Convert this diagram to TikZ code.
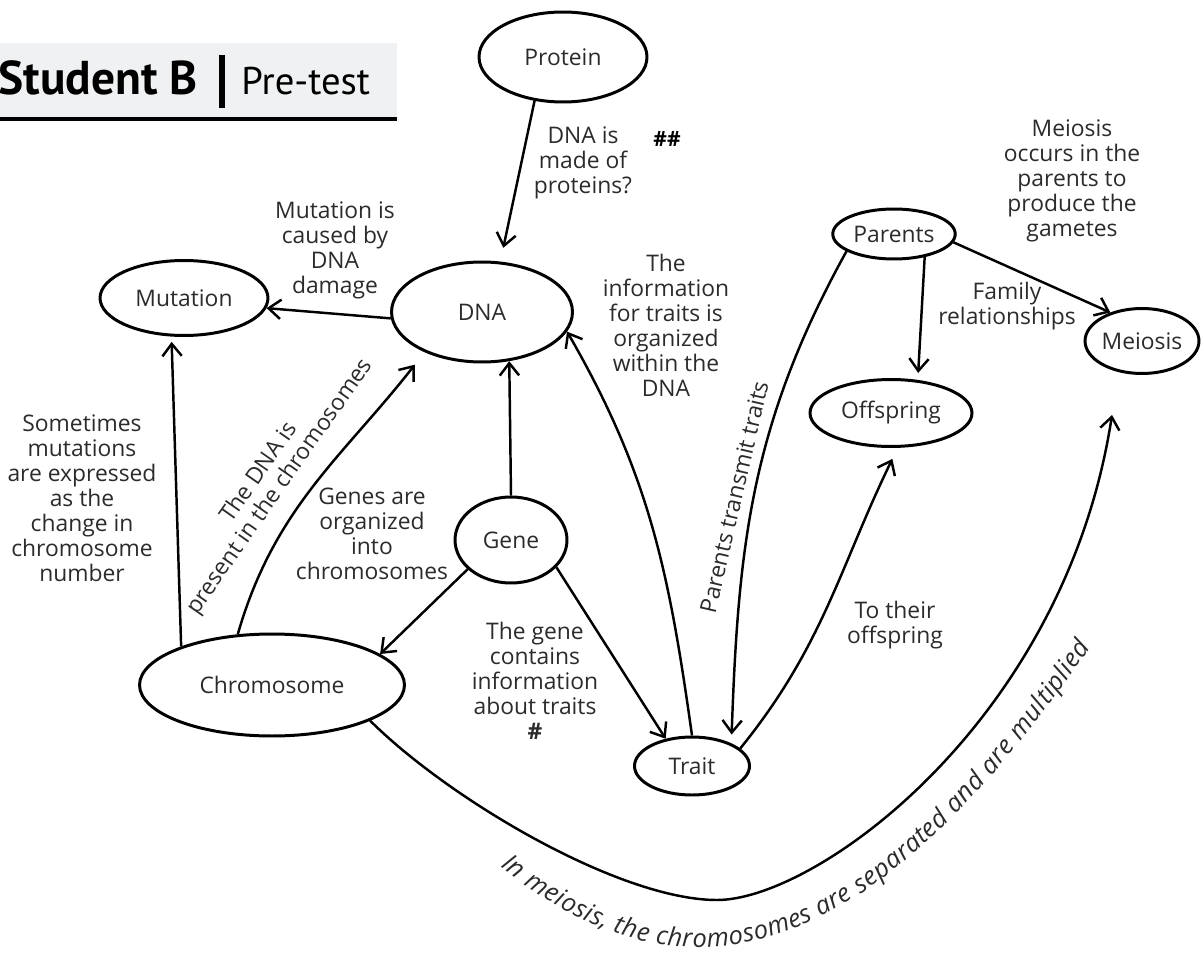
\documentclass[tikz,border=0pt]{standalone}
\usepackage{fontspec}
\setmainfont{Open Sans}
\newfontfamily\titlefont{PT Sans}
\usepackage{xcolor}
\definecolor{TitleGray}{HTML}{F0F1F2}
\definecolor{HandInk}{HTML}{2B2B2B}
\usetikzlibrary{shapes.geometric}
\usetikzlibrary{arrows.meta}
\usetikzlibrary{decorations.text}
\newcommand{\handsize}{\fontsize{13}{14.2}\selectfont}
\newcommand{\curvesize}{\fontsize{14.5}{15}\selectfont}
\newcommand{\titlebig}{\titlefont\fontsize{27}{30}\selectfont\bfseries}
\newcommand{\titlesmall}{\titlefont\fontsize{22}{26}\selectfont}
\tikzset{
  concept/.style={draw, ellipse, line width=1.7pt, inner sep=0pt,
    font=\handsize, text=HandInk},
  link/.style={-{Straight Barb[length=7pt,width=11pt]}, line width=1.4pt},
  linklabel/.style={align=center, inner sep=0pt, font=\handsize, text=HandInk},
}

\begin{document}
\begin{tikzpicture}[x=0.02cm, y=-0.02cm]
    \useasboundingbox (0,0) rectangle (1203,956);
    % title part
    \fill[TitleGray] (0,43) rectangle (397,118);
    \draw[line width=1.8pt] (0,119) -- (397,119);
    \node[anchor=base west, inner sep=0pt, font=\titlebig] (student) at (-2,95) {Student B};
    \fill (219,55) rectangle (225,108);
    \node[anchor=base west, inner sep=0pt, font=\titlesmall] (pretest) at (241,95) {Pre-test};

    % concept part
    \node[concept, minimum width=3.36cm, minimum height=1.8cm] (protein) at (563,57) {Protein};
    \node[concept, minimum width=3.62cm, minimum height=2.0cm] (dna) at (482,312) {DNA};
    \node[concept, minimum width=3.36cm, minimum height=1.5cm] (mutation) at (184,298) {Mutation};
    \node[concept, minimum width=2.24cm, minimum height=1.72cm] (gene) at (511,540) {Gene};
    \node[concept, minimum width=5.3cm, minimum height=2.04cm] (chromosome) at (272,685) {Chromosome};
    \node[concept, minimum width=2.3cm, minimum height=1.16cm] (trait) at (692,766) {Trait};
    \node[concept, minimum width=2.45cm, minimum height=1.0cm] (parents) at (894,234) {Parents};
    \node[concept, minimum width=3.24cm, minimum height=1.34cm] (offspring) at (891,413) {Offspring};
    \node[concept, minimum width=2.26cm, minimum height=1.3cm] (meiosis) at (1142,341) {Meiosis};
    \coordinate (meiosisin) at (1112,415);

    % link part
    \draw[link, shorten >=8pt] (protein.237) -- (dna.70);
    \draw[link] (dna.184) -- (mutation.-7);
    \draw[link, shorten >=3pt] (chromosome.157) -- (mutation.252);
    \draw[link, shorten >=9pt] (chromosome.124) to[out=74, in=232] (dna.215);
    \draw[link] (gene.north) -- (dna.-61);
    \draw[link] (gene.214) -- (chromosome.16);
    \draw[link] (gene.-31) -- (trait.134);
    \draw[link] (trait.90) to[out=98, in=-60] (dna.-13);
    \draw[link, shorten >=5pt] (parents.200) to[out=241, in=88] (trait.30);
    \draw[link, shorten >=7pt] (trait.20) to[out=51, in=244] (offspring.-79);
    \draw[link, shorten >=4pt] (parents.-37) -- (offspring.51);
    \draw[link] (parents.-8) -- (meiosis.138);
    \draw[link] (chromosome.-20) .. controls (450,800) and (620,900) .. (717,900)
      .. controls (817,900) and (1065,720) .. (meiosisin);
    % text under the meiosis curve
    \path[decorate, decoration={text along path, text align=fit to path,
        text={|\color{HandInk}\itshape\curvesize|In meiosis, the chromosomes are separated and are multiplied}}]
      (500,866) .. controls (728,1052) and (920,893) .. (1090,648);

    % label part
    \node[linklabel] (proteinlabel) at (583,163) {DNA is\\made of\\proteins?};
    \node[inner sep=0pt, font=\large\bfseries] (proteinmark) at (667,139) {\#\#};
    \node[linklabel] (mutationlabel) at (335,250) {Mutation is\\caused by\\DNA\\damage};
    \node[linklabel] (sometimeslabel) at (82,498) {Sometimes\\mutations\\are expressed\\as the\\change in\\chromosome\\number};
    \node[linklabel, rotate=55] (presentlabel) at (270,480) {The DNA is\\present in the chromosomes};
    \node[linklabel] (organizedlabel) at (372,534) {Genes are\\organized\\into\\chromosomes};
    \node[linklabel] (containslabel) at (535,681) {The gene\\contains\\information\\about traits\\\textbf{\#}};
    \node[linklabel] (withinlabel) at (666,325) {The\\information\\for traits is\\organized\\within the\\DNA};
    \node[linklabel, rotate=77] (transmitlabel) at (734,497) {Parents transmit traits};
    \node[linklabel] (theirlabel) at (895,625) {To their\\offspring};
    \node[linklabel] (familylabel) at (1007,306) {Family\\relationships};
    \node[linklabel] (gameteslabel) at (1072,181) {Meiosis\\occurs in the\\parents to\\produce the\\gametes};
\end{tikzpicture}
\end{document}
